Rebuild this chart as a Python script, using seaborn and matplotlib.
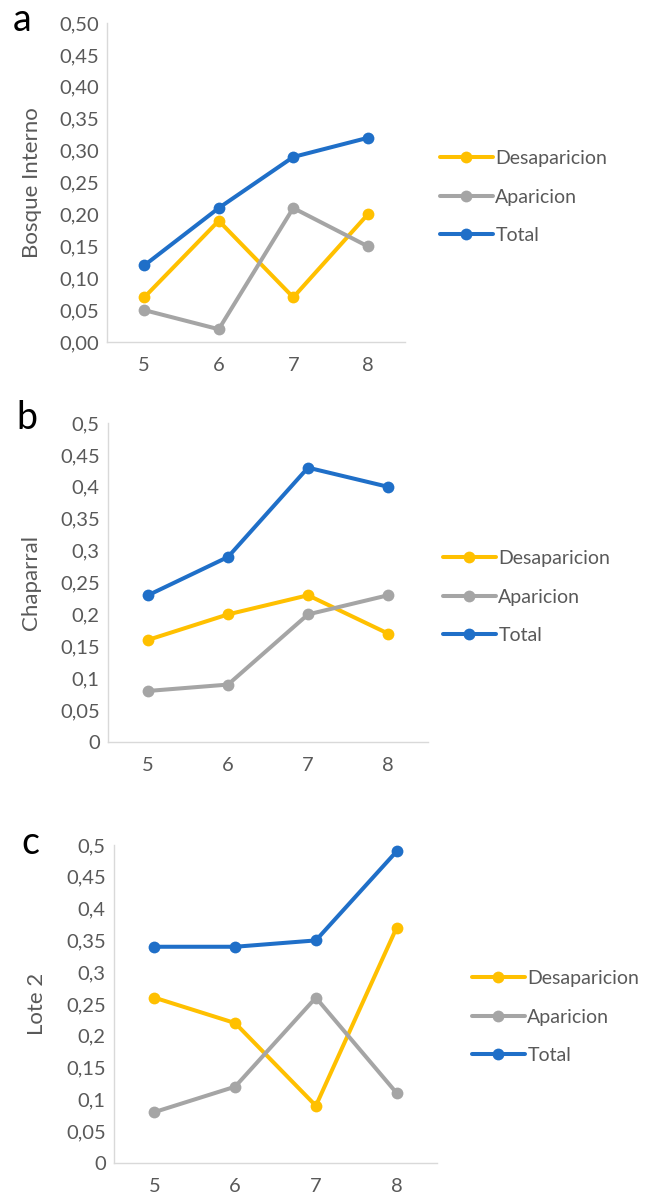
import numpy as np
import matplotlib
matplotlib.use("Agg")
import matplotlib.pyplot as plt
import pandas as pd
import seaborn as sns

# data
x_vals = [5, 6, 7, 8]
series_names = ['Desaparicion', 'Aparicion', 'Total']

a_desap = [0.07, 0.19, 0.07, 0.20]
a_apar = [0.05, 0.02, 0.21, 0.15]
a_total = [0.12, 0.21, 0.29, 0.32]

b_desap = [0.16, 0.20, 0.23, 0.17]
b_apar = [0.08, 0.09, 0.20, 0.23]
b_total = [0.23, 0.29, 0.43, 0.40]

c_desap = [0.26, 0.22, 0.09, 0.37]
c_apar = [0.08, 0.12, 0.26, 0.11]
c_total = [0.34, 0.34, 0.35, 0.49]

y_ticks = [0, 0.05, 0.10, 0.15, 0.20, 0.25, 0.30, 0.35, 0.40, 0.45, 0.50]
a_tick_labels = ['0,00', '0,05', '0,10', '0,15', '0,20', '0,25', '0,30', '0,35', '0,40', '0,45', '0,50']
bc_tick_labels = ['0', '0,05', '0,1', '0,15', '0,2', '0,25', '0,3', '0,35', '0,4', '0,45', '0,5']

panel_letters = ['a', 'b', 'c']
panel_ylabels = ['Bosque Interno', 'Chaparral', 'Lote 2']

colors = {'Desaparicion': '#FFC000', 'Aparicion': '#A5A5A5', 'Total': '#1F6FC8'}

sns.set_theme(style='white')
plt.rcParams['font.family'] = ['Lato', 'DejaVu Sans']

W, H = 648, 1199
fig = plt.figure(figsize=(W / 100, H / 100), dpi=100)


def to_df(desap, apar, total):
    rows = []
    for name, vals in zip(series_names, [desap, apar, total]):
        for xv, v in zip(x_vals, vals):
            rows.append({'x': xv, 'valor': v, 'serie': name})
    return pd.DataFrame(rows)


# pixel boxes: left, right, top, bottom ; legend anchor x, y ; letter x, y
panels = [
    (to_df(a_desap, a_apar, a_total), (107, 405, 23, 342), (440, 197), (22, 20), a_tick_labels, 32),
    (to_df(b_desap, b_apar, b_total), (108, 428, 423, 742), (443, 597), (27, 418), bc_tick_labels, 31),
    (to_df(c_desap, c_apar, c_total), (114, 437, 845, 1163), (472, 1017), (30, 843), bc_tick_labels, 37),
]

for i, (df, box, leg, let, ylabs, ylab_x) in enumerate(panels):
    l, r, t, b = box
    ax = fig.add_axes([l / W, 1 - b / H, (r - l) / W, (b - t) / H])
    sns.lineplot(data=df, x='x', y='valor', hue='serie', palette=colors,
                 marker='o', markersize=8.5, markeredgewidth=0, linewidth=2.9,
                 ax=ax, legend=True)
    ax.set_xlim(4.5, 8.5)
    ax.set_ylim(0, 0.5)
    ax.set_xticks(x_vals)
    ax.set_xticklabels([str(v) for v in x_vals])
    ax.set_yticks(y_ticks)
    ax.set_yticklabels(ylabs)
    ax.tick_params(axis='both', labelsize=14.5, colors='#595959', length=0, pad=6)
    ax.tick_params(axis='x', pad=11)
    for s in ['top', 'right']:
        ax.spines[s].set_visible(False)
    for s in ['left', 'bottom']:
        ax.spines[s].set_color('#D9D9D9')
        ax.spines[s].set_linewidth(1)
    ax.set_xlabel('')
    ax.set_ylabel('')
    fig.text(ylab_x / W, 1 - (t + b) / 2 / H, panel_ylabels[i], rotation=90,
             ha='center', va='center', fontsize=16, color='#595959')
    fig.text(let[0] / W, 1 - let[1] / H, panel_letters[i], ha='center', va='center',
             fontsize=27, color='black')

    handles, labels = ax.get_legend_handles_labels()
    ax.legend(handles, labels, loc='center left', frameon=False,
              bbox_to_anchor=(leg[0] / W, 1 - leg[1] / H), bbox_transform=fig.transFigure,
              fontsize=14, labelcolor='#595959', handlelength=2.7, handletextpad=0.15,
              labelspacing=1.1, borderpad=0, borderaxespad=0)

fig.savefig('out.png', dpi=100)
